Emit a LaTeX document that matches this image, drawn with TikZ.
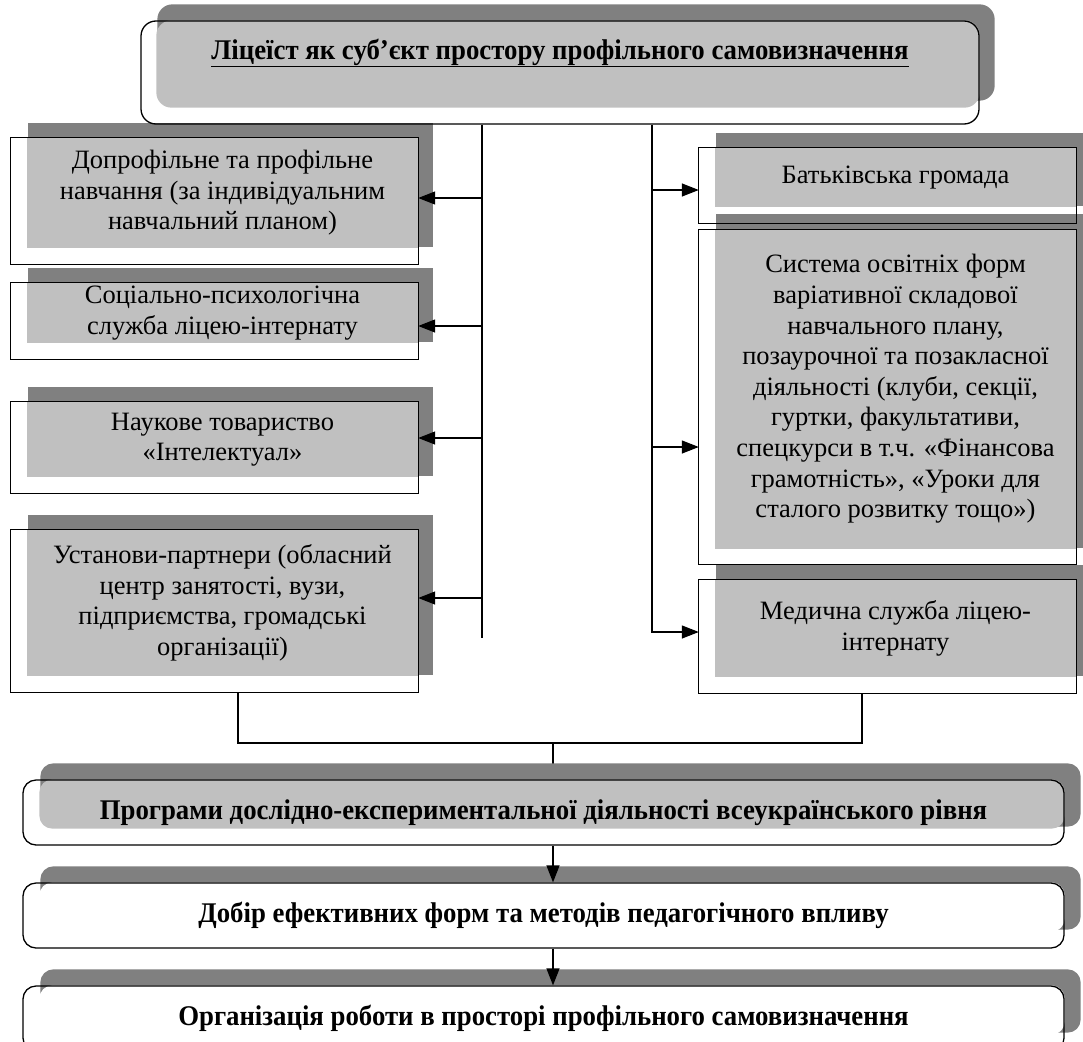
\documentclass[tikz,border=0pt]{standalone}
\usepackage{fontspec}
\usepackage{graphicx}
\setmainfont{Liberation Serif}
\usetikzlibrary{arrows.meta,backgrounds}
\definecolor{shadowgrey}{HTML}{808080}
\definecolor{boxgrey}{HTML}{C0C0C0}
\newcommand\condensed[1]{\scalebox{0.94}[1]{#1}}
\tikzset{
  sidebox/.style={fill=boxgrey, inner sep=0pt, align=center,
    font=\fontsize{26.5}{30.6}\selectfont},
  roundbox/.style={draw, line width=1.3pt, rounded corners=13pt, inner sep=0pt,
    minimum width=1041pt, minimum height=65pt,
    font=\bfseries\fontsize{28.5}{32}\selectfont},
  frame/.style={draw, line width=1.3pt},
  link/.style={line width=1.3pt},
  arr/.style={line width=1.3pt, -{Triangle[length=17pt,width=13pt]}},
}

\begin{document}
\begin{tikzpicture}[x=1pt,y=-1pt]
  \useasboundingbox (0,0) rectangle (1083,1041);
  % top box
  \node[roundbox, rounded corners=15pt, minimum width=838pt, minimum height=103pt] (lyceist) at (560,72.5) {};
  \node[font=\bfseries\fontsize{28.5}{32}\selectfont] (title) at (560,53) {\condensed{\underline{Ліцеїст як суб’єкт простору профільного самовизначення}}};
  % left column
  \node[sidebox, minimum width=391pt, minimum height=110pt] (plan) at (222.5,193) {Допрофільне та профільне\\навчання (за індивідуальним\\навчальний планом)};
  \node[sidebox, minimum width=391pt, minimum height=60pt] (psych) at (222.5,313) {Соціально-психологічна\\служба ліцею-інтернату};
  \node[sidebox, minimum width=391pt, minimum height=75pt] (science) at (222.5,439.5) {Наукове товариство\\«Інтелектуал»};
  \node[sidebox, minimum width=391pt, minimum height=146pt] (partners) at (222.5,603) {Установи-партнери (обласний\\центр занятості, вузи,\\підприємства, громадські\\організації)};
  % right column
  \node[sidebox, minimum width=361pt, minimum height=59pt] (parents) at (895.5,177.5) {Батьківська громада};
  \node[sidebox, minimum width=361pt, minimum height=319pt] (forms) at (895.5,389) {Система освітніх форм\\варіативної складової\\навчального плану,\\позаурочної та позакласної\\діяльності (клуби, секції,\\гуртки, факультативи,\\спецкурси в т.ч. «Фінансова\\грамотність», «Уроки для\\сталого розвитку тощо»)};
  \node[sidebox, minimum width=361pt, minimum height=97pt] (medic) at (895.5,628.5) {Медична служба ліцею-\\інтернату};
  % bottom chain
  \node[roundbox] (programs) at (543.5,812.5) {\condensed{Програми дослідно-експериментальної діяльності всеукраїнського рівня}};
  \node[roundbox] (choice) at (543.5,915.5) {\condensed{Добір ефективних форм та методів педагогічного впливу}};
  \node[roundbox] (work) at (543.5,1018.5) {\condensed{Організація роботи в просторі профільного самовизначення}};

  \foreach \n in {plan,psych,science,partners,parents,forms,medic}
    \draw[frame] ([xshift=-16pt]\n.north west) rectangle ([yshift=-16pt]\n.south east);

  \coordinate (ltrunk) at (482,638);
  \coordinate (rtrunk) at (652,632);
  \coordinate (jl) at (238,743);
  \coordinate (jr) at (862,743);
  \coordinate (jm) at (553,743);

  \begin{scope}[on background layer]
    \draw[link] ([yshift=-16pt]partners.south -| jl) -- (jl) -- (jr) -- ([yshift=-16pt]medic.south -| jr);
    \draw[link] (jm) -- (programs.north -| jm);
    \foreach \n in {plan,psych,science,partners,parents,forms,medic}
      \fill[shadowgrey] ([xshift=1pt,yshift=15pt]\n.north west) rectangle ([xshift=15pt,yshift=1pt]\n.south east);
    \fill[shadowgrey, rounded corners=15pt] ([xshift=17pt,yshift=16pt]lyceist.north west) rectangle ([xshift=15pt,yshift=24pt]lyceist.south east);
    \fill[boxgrey, rounded corners=15pt] ([xshift=16pt]lyceist.north west) rectangle ([yshift=17pt]lyceist.south east);
    \foreach \n/\c in {programs/boxgrey,choice/white,work/white} {
      \fill[shadowgrey, rounded corners=13pt] ([xshift=18pt,yshift=16pt]\n.north west) rectangle ([xshift=16pt,yshift=19pt]\n.south east);
      \fill[\c, rounded corners=13pt] ([xshift=17pt]\n.north west) rectangle ([yshift=17pt]\n.south east);
    }
  \end{scope}

  \draw[link] (lyceist.south -| ltrunk) -- (ltrunk);
  \draw[arr] (lyceist.south -| rtrunk) -- (rtrunk) -- ([xshift=-16pt]rtrunk -| medic.west);
  \foreach \y/\n in {198/plan,326/psych,438/science,598/partners} {
    \coordinate (\n-in) at (482,\y);
    \draw[arr] (\n-in) -- (\n-in -| \n.east);
  }
  \foreach \y/\n in {190/parents,447/forms} {
    \coordinate (\n-in) at (652,\y);
    \draw[arr] (\n-in) -- ([xshift=-16pt]\n-in -| \n.west);
  }
  \draw[arr] (programs.south -| jm) -- (choice.north -| jm);
  \draw[arr] (choice.south -| jm) -- (work.north -| jm);
\end{tikzpicture}
\end{document}
